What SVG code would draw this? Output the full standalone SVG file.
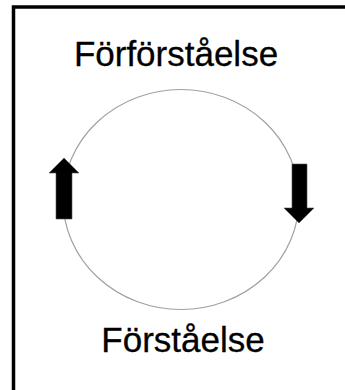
<svg xmlns="http://www.w3.org/2000/svg" width="345" height="390" viewBox="0 0 345 390">
<style>
.lbl{font-family:"Liberation Sans",Arial,sans-serif;font-size:35px;fill:#000;text-anchor:middle;stroke:#000;stroke-width:0.3}
.arr{fill:#000;stroke:#555;stroke-width:0.6}
</style>
<rect x="0" y="0" width="345" height="390" fill="#fff"/>
<rect x="13.5" y="7" width="360" height="400" fill="none" stroke="#000" stroke-width="3.5"/>
<g id="connectors">
<ellipse cx="181" cy="199.5" rx="118" ry="110" fill="none" stroke="#a0a0a0" stroke-width="1.2"/>
</g>
<g id="arrow-up">
<polygon class="arr" points="64,158 79,173 72,173 72,219 56,219 56,173 49,173"/>
</g>
<g id="arrow-down">
<polygon class="arr" points="299,223 314,208 307,208 307,164 292,164 292,208 284,208"/>
</g>
<g id="node-forforstaelse">
<text class="lbl" x="176" y="66">Förförståelse</text>
</g>
<g id="node-forstaelse">
<text class="lbl" x="183" y="352">Förståelse</text>
</g>
</svg>
